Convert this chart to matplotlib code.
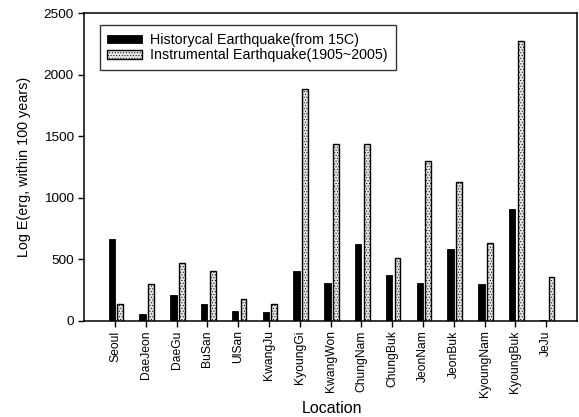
import matplotlib.pyplot as plt
import numpy as np

plt.rcParams['font.family'] = ['Liberation Sans', 'DejaVu Sans']
plt.rcParams['hatch.linewidth'] = 0.4

# Data
locations = ["Seoul", "DaeJeon", "DaeGu", "BuSan", "UlSan", "KwangJu", "KyoungGi",
             "KwangWon", "ChungNam", "ChungBuk", "JeonNam", "JeonBuk", "KyoungNam",
             "KyoungBuk", "JeJu"]
historical = [665, 57, 209, 136, 76, 73, 401, 307, 624, 369, 307, 584, 299, 906, 5]
instrumental = [138, 300, 470, 401, 174, 138, 1881, 1439, 1441, 510, 1300, 1129, 633, 2275, 353]

x = np.arange(1, len(locations) + 1)

fig = plt.figure(figsize=(5.79, 4.17), dpi=100)
ax = fig.add_axes([0.1456, 0.231, 0.851, 0.737])

ax.bar(x - 0.105, historical, width=0.21, color="black", edgecolor="black",
       linewidth=0.6, label="Historycal Earthquake(from 15C)")
ax.bar(x + 0.17, instrumental, width=0.19, color="#e4e4e4", edgecolor="black",
       linewidth=1.0, hatch="......", label="Instrumental Earthquake(1905~2005)")

ax.set_xlim(0, 16)
ax.set_ylim(0, 2500)
ax.set_xticks(x)
ax.set_xticklabels(locations, rotation=90, fontsize=8.7)
ax.set_yticks([0, 500, 1000, 1500, 2000, 2500])
ax.tick_params(axis="y", labelsize=9.7, direction="out", length=4, width=1)
ax.tick_params(axis="x", direction="out", length=4, width=1, pad=3)
for s in ax.spines.values():
    s.set_linewidth(1.1)

ax.set_ylabel("Log E(erg, within 100 years)", fontsize=10.4, labelpad=9)
ax.set_xlabel("Location", fontsize=11.5)
ax.xaxis.set_label_coords(0.503, -0.262)

leg = ax.legend(loc="upper left", bbox_to_anchor=(0.031, 0.962), fontsize=10.3,
                frameon=True, fancybox=False, edgecolor="black",
                handlelength=2.4, handleheight=0.55, borderpad=0.55,
                labelspacing=0.1, handletextpad=0.6, borderaxespad=0)
leg.get_frame().set_linewidth(1.0)

fig.savefig("out.png", dpi=100)
